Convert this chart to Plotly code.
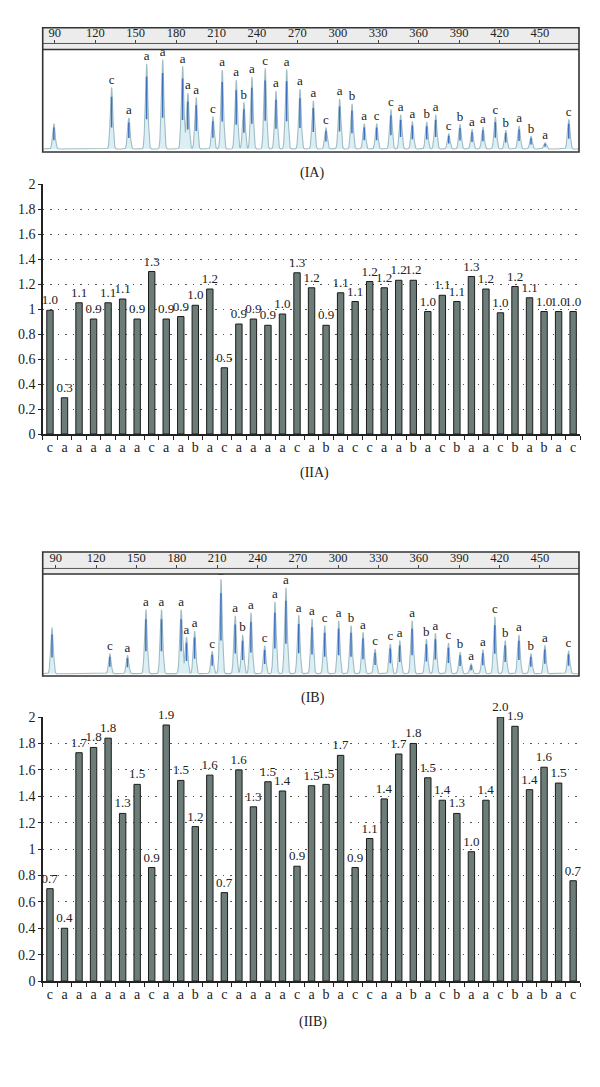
import numpy as np
import plotly.graph_objects as go

W, H = 600, 1087
SERIF = "Liberation Serif, Times New Roman, serif"
TXT = "#222222"

# ---------------- data ----------------
# (IA) electropherogram: peak sizes (bp), heights (arbitrary units), allele letters
ia_bp = [89.3, 132.1, 144.9, 158.1, 170.0, 184.8, 188.7, 194.9, 207.3, 214.2,
         224.6, 230.3, 236.2, 246.1, 254.1, 262.0, 271.9, 281.8, 291.2, 301.3,
         310.5, 319.6, 328.8, 339.4, 346.6, 355.3, 366.0, 372.6, 382.3, 390.7,
         399.6, 407.7, 416.9, 424.6, 434.5, 443.4, 453.8, 471.4]
ia_h = [25.7, 62.3, 31.7, 86.3, 90.7, 84.0, 56.7, 52.3, 33.0, 80.0,
        70.0, 47.3, 73.0, 81.7, 58.7, 80.7, 60.7, 49.0, 21.7, 50.7,
        45.7, 25.7, 25.7, 40.0, 34.7, 28.0, 27.3, 34.7, 15.7, 25.0,
        20.0, 22.3, 32.3, 19.0, 23.3, 13.0, 6.3, 30.0]
peak_labels = ["", "c", "a", "a", "a", "a", "a", "a", "c", "a",
               "a", "b", "a", "c", "a", "a", "a", "a", "c", "a",
               "b", "a", "c", "c", "a", "a", "b", "a", "c", "b",
               "a", "a", "c", "b", "a", "b", "a", "c"]

# (IB) electropherogram
ib_bp = [87.2, 130.2, 143.3, 157.0, 168.6, 183.2, 187.2, 193.2, 206.3, 212.8,
         223.4, 228.9, 235.1, 245.3, 252.9, 261.1, 270.6, 280.5, 289.9, 300.3,
         309.5, 318.4, 327.4, 338.7, 345.7, 354.9, 365.5, 372.2, 381.9, 390.6,
         398.8, 407.5, 416.4, 424.1, 434.3, 443.2, 453.6, 471.2]
ib_h = [46.7, 20.3, 18.7, 65.0, 65.0, 65.0, 37.0, 43.3, 22.7, 96.0,
        58.7, 39.3, 61.7, 28.3, 72.7, 87.0, 59.3, 55.3, 48.7, 53.7,
        48.7, 42.0, 25.0, 30.0, 33.7, 53.7, 35.0, 41.0, 31.0, 22.0,
        10.0, 24.3, 57.7, 33.7, 39.3, 20.3, 28.7, 23.3]

size_ticks = [90, 120, 150, 180, 210, 240, 270, 300, 330, 360, 390, 420, 450]

# bar charts: categories (allele letters) and ratios
bar_cats = ["c", "a", "a", "a", "a", "a", "a", "c", "a", "a", "b", "a", "c",
            "a", "a", "a", "a", "c", "a", "b", "a", "c", "c", "a", "a", "b",
            "a", "c", "b", "a", "a", "c", "b", "a", "b", "a", "c"]
iia_vals = [0.99, 0.29, 1.05, 0.92, 1.05, 1.08, 0.92, 1.30, 0.92, 0.94, 1.03, 1.16, 0.53,
            0.88, 0.92, 0.87, 0.96, 1.29, 1.17, 0.87, 1.13, 1.06, 1.22, 1.17, 1.23, 1.23,
            0.98, 1.11, 1.06, 1.26, 1.16, 0.97, 1.18, 1.09, 0.98, 0.98, 0.98]
iia_text = ["1.0", "0.3", "1.1", "0.9", "1.1", "1.1", "0.9", "1.3", "0.9", "0.9", "1.0", "1.2", "0.5",
            "0.9", "0.9", "0.9", "1.0", "1.3", "1.2", "0.9", "1.1", "1.1", "1.2", "1.2", "1.2", "1.2",
            "1.0", "1.1", "1.1", "1.3", "1.2", "1.0", "1.2", "1.1", "1.0", "1.0", "1.0"]
iib_vals = [0.70, 0.40, 1.73, 1.77, 1.84, 1.27, 1.49, 0.86, 1.94, 1.52, 1.17, 1.56, 0.67,
            1.60, 1.32, 1.51, 1.44, 0.87, 1.48, 1.49, 1.71, 0.86, 1.08, 1.38, 1.72, 1.80,
            1.54, 1.37, 1.27, 0.98, 1.37, 2.00, 1.93, 1.45, 1.62, 1.50, 0.76]
iib_text = ["0.7", "0.4", "1.7", "1.8", "1.8", "1.3", "1.5", "0.9", "1.9", "1.5", "1.2", "1.6", "0.7",
            "1.6", "1.3", "1.5", "1.4", "0.9", "1.5", "1.5", "1.7", "0.9", "1.1", "1.4", "1.7", "1.8",
            "1.5", "1.4", "1.3", "1.0", "1.4", "2.0", "1.9", "1.4", "1.6", "1.5", "0.7"]

# ---------------- layout geometry (pixels) ----------------
def fx(p):
    return p / W

def fy(p):
    return 1 - p / H

EX0, EX1 = 42.7, 579.0      # electropherogram frame
BX0, BX1 = 42.7, 580.4      # bar chart x domain

fig = go.Figure()

def add_electro(bp, h, xa, ya, sx, sy, xr):
    grid = np.arange(xr[0], xr[1] + 0.05, 0.1)
    sig = 0.95
    trace_y = np.zeros_like(grid)
    for p, v in zip(bp, h):
        trace_y += v * np.exp(-0.5 * ((grid - p) / sig) ** 2)
    fig.add_trace(go.Scatter(x=grid, y=trace_y, mode="lines",
                             line=dict(color="#9fbcc4", width=1.1),
                             fill="tozeroy", fillcolor="rgba(175,220,232,0.45)",
                             xaxis=xa, yaxis=ya, hoverinfo="skip", showlegend=False))
    # coloured cores of the peaks
    cx, cy = [], []
    for p, v in zip(bp, h):
        cx += [p, p, None]
        cy += [0.35 * v, 0.85 * v, None]
    fig.add_trace(go.Scatter(x=cx, y=cy, mode="lines", line=dict(color="#3f6fbf", width=1.5),
                             xaxis=xa, yaxis=ya, hoverinfo="skip", showlegend=False))
    fig.add_trace(go.Scatter(x=bp, y=[v + 7 for v in h], mode="text", text=peak_labels,
                             textposition="middle center",
                             textfont=dict(family=SERIF, size=13, color=TXT),
                             xaxis=xa, yaxis=ya, hoverinfo="skip", showlegend=False))
    # empty trace for the size strip subplot
    fig.add_trace(go.Scatter(x=[None], y=[None], xaxis=sx, yaxis=sy, showlegend=False))


def add_bars(vals, text, xa, ya):
    idx = list(range(1, len(vals) + 1))
    fig.add_trace(go.Bar(x=idx, y=vals, text=text, textposition="outside",
                         constraintext="none", cliponaxis=False,
                         textfont=dict(family=SERIF, size=13, color=TXT),
                         marker=dict(color="#6b7c79", line=dict(color="#1c1c1c", width=1)),
                         xaxis=xa, yaxis=ya, showlegend=False, hoverinfo="skip"))


IA_RANGE = [81, 479]
IB_RANGE = [80.3, 479]
add_electro(ia_bp, ia_h, "x", "y", "x2", "y2", IA_RANGE)
add_bars(iia_vals, iia_text, "x3", "y3")
add_electro(ib_bp, ib_h, "x4", "y4", "x5", "y5", IB_RANGE)
add_bars(iib_vals, iib_text, "x6", "y6")

hidden = dict(visible=False, showgrid=False, zeroline=False)

def strip_axis(rng, anchor):
    return dict(domain=[fx(EX0), fx(EX1)], range=rng, anchor=anchor, side="bottom",
                tickmode="array", tickvals=size_ticks, ticks="inside", ticklen=3,
                tickcolor="#444", ticklabelposition="inside", showline=False,
                showgrid=False, zeroline=False,
                tickfont=dict(family=SERIF, size=12.5, color=TXT))

def bar_x(anchor):
    return dict(domain=[fx(BX0), fx(BX1)], range=[0.5, len(bar_cats) + 0.5], anchor=anchor,
                tickmode="array", tickvals=list(range(1, len(bar_cats) + 1)), ticktext=bar_cats,
                ticks="", showline=True, linecolor="#222", linewidth=1.5, showgrid=False,
                zeroline=False, tickfont=dict(family=SERIF, size=14, color=TXT),
                minor=dict(ticks="outside", tick0=0.5, dtick=1, ticklen=4,
                           tickcolor="#222", showgrid=False))

def bar_y(top, bottom, anchor):
    return dict(domain=[fy(bottom), fy(top)], range=[0, 2], dtick=0.2, anchor=anchor,
                showgrid=True, griddash="1.5px,6px", gridcolor="#555", gridwidth=1,
                showline=True, linecolor="#222", linewidth=1.5, ticks="outside", ticklen=3,
                tickcolor="#222", zeroline=False,
                tickfont=dict(family=SERIF, size=14, color=TXT))

fig.update_layout(
    width=W, height=H, margin=dict(l=0, r=0, t=0, b=0),
    paper_bgcolor="white", plot_bgcolor="white", bargap=0.56,
    xaxis=dict(domain=[fx(EX0), fx(EX1)], range=IA_RANGE, anchor="y", **hidden),
    yaxis=dict(domain=[fy(147), fy(43)], range=[-3, 101], anchor="x", **hidden),
    xaxis2=strip_axis(IA_RANGE, "y2"),
    yaxis2=dict(domain=[fy(37), fy(21)], range=[0, 1], anchor="x2", **hidden),
    xaxis3=bar_x("y3"),
    yaxis3=bar_y(179.5, 433, "x3"),
    xaxis4=dict(domain=[fx(EX0), fx(EX1)], range=IB_RANGE, anchor="y4", **hidden),
    yaxis4=dict(domain=[fy(678.3), fy(575)], range=[-2.3, 101], anchor="x4", **hidden),
    xaxis5=strip_axis(IB_RANGE, "y5"),
    yaxis5=dict(domain=[fy(569.3), fy(552.7)], range=[0, 1], anchor="x5", **hidden),
    xaxis6=bar_x("y6"),
    yaxis6=bar_y(720, 987.7, "x6"),
)

shapes = []
for top, sep, ptop, bot in [(21, 37, 43, 147), (552.7, 569.3, 575, 678.3)]:
    shapes.append(dict(type="rect", xref="paper", yref="paper", x0=fx(EX0), x1=fx(EX1),
                       y0=fy(ptop), y1=fy(top), fillcolor="#ececec", line=dict(width=0),
                       layer="below"))
    shapes.append(dict(type="line", xref="paper", yref="paper", x0=fx(EX0), x1=fx(EX1),
                       y0=fy(sep), y1=fy(sep), line=dict(color="#555", width=1)))
    shapes.append(dict(type="line", xref="paper", yref="paper", x0=fx(EX0), x1=fx(EX1),
                       y0=fy(ptop), y1=fy(ptop), line=dict(color="#333", width=1.5)))
    shapes.append(dict(type="rect", xref="paper", yref="paper", x0=fx(EX0), x1=fx(EX1),
                       y0=fy(bot), y1=fy(top), line=dict(color="#333", width=1.6)))
fig.update_layout(shapes=shapes)

for label, cx, cy in [("(IA)", 311.7, 168.3), ("(IIA)", 314.7, 473),
                      ("(IB)", 312.5, 700.7), ("(IIB)", 313.3, 1029.3)]:
    fig.add_annotation(text=label, x=fx(cx), y=fy(cy), xref="paper", yref="paper",
                       showarrow=False, xanchor="center", yanchor="middle",
                       font=dict(family=SERIF, size=14, color=TXT))

fig.write_html("out.html", config={"displayModeBar": False, "staticPlot": True},
               post_script="document.body.style.margin='0';document.body.style.overflow='hidden';")
